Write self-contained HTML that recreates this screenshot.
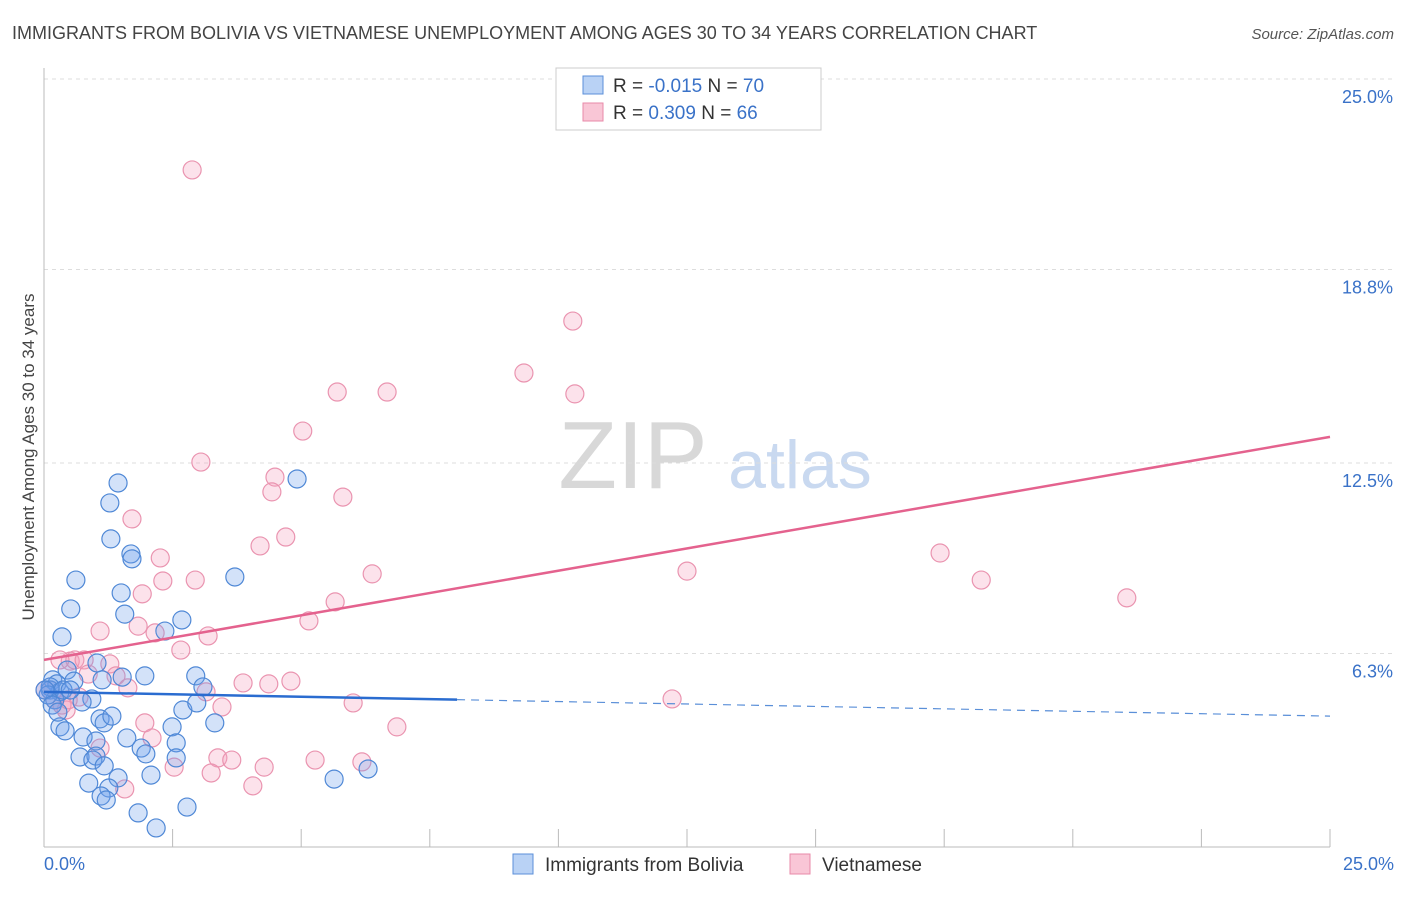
<!DOCTYPE html>
<html><head><meta charset="utf-8"><style>
body{margin:0;background:#fff;font-family:"Liberation Sans",sans-serif;}
svg text{font-family:"Liberation Sans",sans-serif;}
</style></head><body>
<svg id="chart" width="1406" height="892" xmlns="http://www.w3.org/2000/svg">
<text x="12" y="39" font-size="18" fill="#444">IMMIGRANTS FROM BOLIVIA VS VIETNAMESE UNEMPLOYMENT AMONG AGES 30 TO 34 YEARS CORRELATION CHART</text>
<text x="1394" y="39" font-size="15" fill="#555" font-style="italic" text-anchor="end">Source: ZipAtlas.com</text>
<text x="633" y="488" font-size="96" fill="#d8d8d8" font-family="Liberation Serif" text-anchor="middle">ZIP</text>
<text x="800" y="488" font-size="68" fill="#c9d9f0" text-anchor="middle">atlas</text>
<g id="grid"></g><g id="axes"></g><g id="marks"></g>
<text transform="translate(34,457) rotate(-90)" font-size="17" fill="#444" text-anchor="middle">Unemployment Among Ages 30 to 34 years</text>
<g>
<rect x="556" y="68" width="265" height="62" fill="#fff" stroke="#ccc"/>
<rect x="583" y="76" width="20" height="18" fill="#b9d2f5" stroke="#5b8fd9"/>
<rect x="583" y="103" width="20" height="18" fill="#f9c6d6" stroke="#e88aa8"/>
<text x="613" y="92" font-size="19" fill="#333">R = <tspan fill="#3a72c8">-0.015</tspan>   N = <tspan fill="#3a72c8">70</tspan></text>
<text x="613" y="119" font-size="19" fill="#333">R =  <tspan fill="#3a72c8">0.309</tspan>   N = <tspan fill="#3a72c8">66</tspan></text>
</g>
<g>
<rect x="513" y="854" width="20" height="20" fill="#b9d2f5" stroke="#5b8fd9"/>
<text x="545" y="871" font-size="19" fill="#333">Immigrants from Bolivia</text>
<rect x="790" y="854" width="20" height="20" fill="#f9c6d6" stroke="#e88aa8"/>
<text x="822" y="871" font-size="19" fill="#333">Vietnamese</text>
</g>
</svg>
<script>
const yTicks=[6.3,12.5,18.8,25.0];
const yTickLabels=["6.3%","12.5%","18.8%","25.0%"];
const xTickLabels=["0.0%","25.0%"];
const blueX=[1.44,1.28,1.30,1.69,1.71,0.62,1.50,0.52,1.57,2.68,2.35,0.35,3.71,4.92,1.03,0.45,0.17,1.96,2.95,1.52,1.13,0.58,0.25,3.09,0.12,0.31,0.93,0.74,0.21,2.70,2.97,1.09,1.17,1.32,3.32,0.31,0.41,2.49,0.76,1.01,1.61,1.89,2.57,0.70,1.01,1.98,2.57,0.95,1.17,1.44,2.08,0.87,1.26,1.11,1.21,1.83,2.18,2.78,5.64,6.30,0.12,0.08,0.02,0.16,0.37,0.27,0.51];
const blueY=[11.85,11.20,10.03,9.54,9.38,8.69,8.27,7.75,7.58,7.39,7.03,6.84,8.79,11.98,5.99,5.76,5.44,5.57,5.57,5.53,5.44,5.40,5.31,5.21,5.11,5.05,4.82,4.72,4.79,4.46,4.69,4.17,4.04,4.26,4.04,3.91,3.78,3.91,3.58,3.45,3.55,3.22,3.39,2.93,2.96,3.03,2.90,2.83,2.64,2.25,2.34,2.08,1.92,1.66,1.53,1.11,0.62,1.30,2.21,2.54,5.21,4.95,5.11,4.62,5.11,4.39,5.11];
const pinkX=[2.88,10.28,9.33,5.70,6.67,10.32,5.03,3.05,4.49,4.43,5.81,1.71,4.70,4.20,2.26,17.42,2.31,2.94,6.38,12.50,18.22,5.66,1.91,21.05,5.15,1.09,2.16,3.19,1.83,2.66,0.51,0.60,0.78,1.28,0.31,0.86,1.40,1.63,3.15,3.87,4.37,4.80,0.68,0.43,3.46,6.01,12.21,1.96,6.86,2.10,1.09,2.53,3.38,3.65,4.28,5.27,6.18,3.25,4.06,1.57,0.12,0.21,0.02,0.35,0.47];
const pinkY=[22.04,17.12,15.43,14.81,14.81,14.75,13.54,12.53,12.04,11.56,11.39,10.68,10.09,9.80,9.41,9.57,8.66,8.69,8.89,8.98,8.69,7.98,8.24,8.11,7.36,7.03,6.97,6.87,7.19,6.41,6.05,6.09,6.09,5.96,6.09,5.63,5.57,5.18,5.05,5.34,5.31,5.40,4.88,4.46,4.56,4.69,4.82,4.04,3.91,3.55,3.22,2.60,2.90,2.83,2.60,2.83,2.77,2.41,1.99,1.89,5.11,4.79,5.11,4.62,4.79];
const blueTrend=[5.05,4.26]; const blueSolidEnd=8.03;
const pinkTrend=[6.09,13.35];
const NS="http://www.w3.org/2000/svg";
const X=v=>44+v*51.44, Y=v=>847-v*30.72;
function mk(t,a,p){const e=document.createElementNS(NS,t);for(const k in a)e.setAttribute(k,a[k]);p.appendChild(e);return e;}
const grid=document.getElementById('grid'),axes=document.getElementById('axes'),marks=document.getElementById('marks');
yTicks.forEach((t,i)=>{
 const l=mk('line',{x1:44,x2:1394,y1:Y(t),y2:Y(t),stroke:'#ddd','stroke-dasharray':'4,4'},grid);
 
 
 const tx=mk('text',{x:1393,y:Y(t)+24,'font-size':18,fill:'#3a72c8','text-anchor':'end'},axes);
 tx.textContent=yTickLabels[i];
 
 
});
const ya=mk('line',{x1:44,x2:44,y1:68,y2:847,stroke:'#bbb'},axes);


const xa=mk('line',{x1:44,x2:1330,y1:847,y2:847,stroke:'#bbb'},axes);


for(let i=1;i<=10;i++){const t=mk('line',{x1:X(i*2.5),x2:X(i*2.5),y1:829,y2:847,stroke:'#bbb'},axes);
 
 }
[[0,'start',44],[25,'end',1394]].forEach((d,i)=>{const t=mk('text',{x:d[2],y:870,'font-size':18,fill:'#3a72c8','text-anchor':d[1]},axes);t.textContent=xTickLabels[i];
 
 });
function pts(xs,ys,fill,stroke,name){xs.forEach((x,i)=>{const c=mk('circle',{cx:X(x),cy:Y(ys[i]),r:9,fill:fill,stroke:stroke,'stroke-width':1.2},marks);
 
 });}
pts(pinkX,pinkY,'rgba(244,160,190,0.3)','#ea94b0','vietnamese-point');
pts(blueX,blueY,'rgba(110,160,235,0.3)','#4f88d6','bolivia-point');
const bAt=x=>blueTrend[0]+(blueTrend[1]-blueTrend[0])*x/25;
const b1=mk('line',{x1:X(0),y1:Y(bAt(0)),x2:X(blueSolidEnd),y2:Y(bAt(blueSolidEnd)),stroke:'#2a6cd0','stroke-width':2.5},marks);


const b2=mk('line',{x1:X(blueSolidEnd),y1:Y(bAt(blueSolidEnd)),x2:X(25),y2:Y(bAt(25)),stroke:'#5a8fd8','stroke-width':1.2,'stroke-dasharray':'8,6'},marks);


const p1=mk('line',{x1:X(0),y1:Y(pinkTrend[0]),x2:X(25),y2:Y(pinkTrend[1]),stroke:'#e4628e','stroke-width':2.5},marks);


</script>
</body></html>
